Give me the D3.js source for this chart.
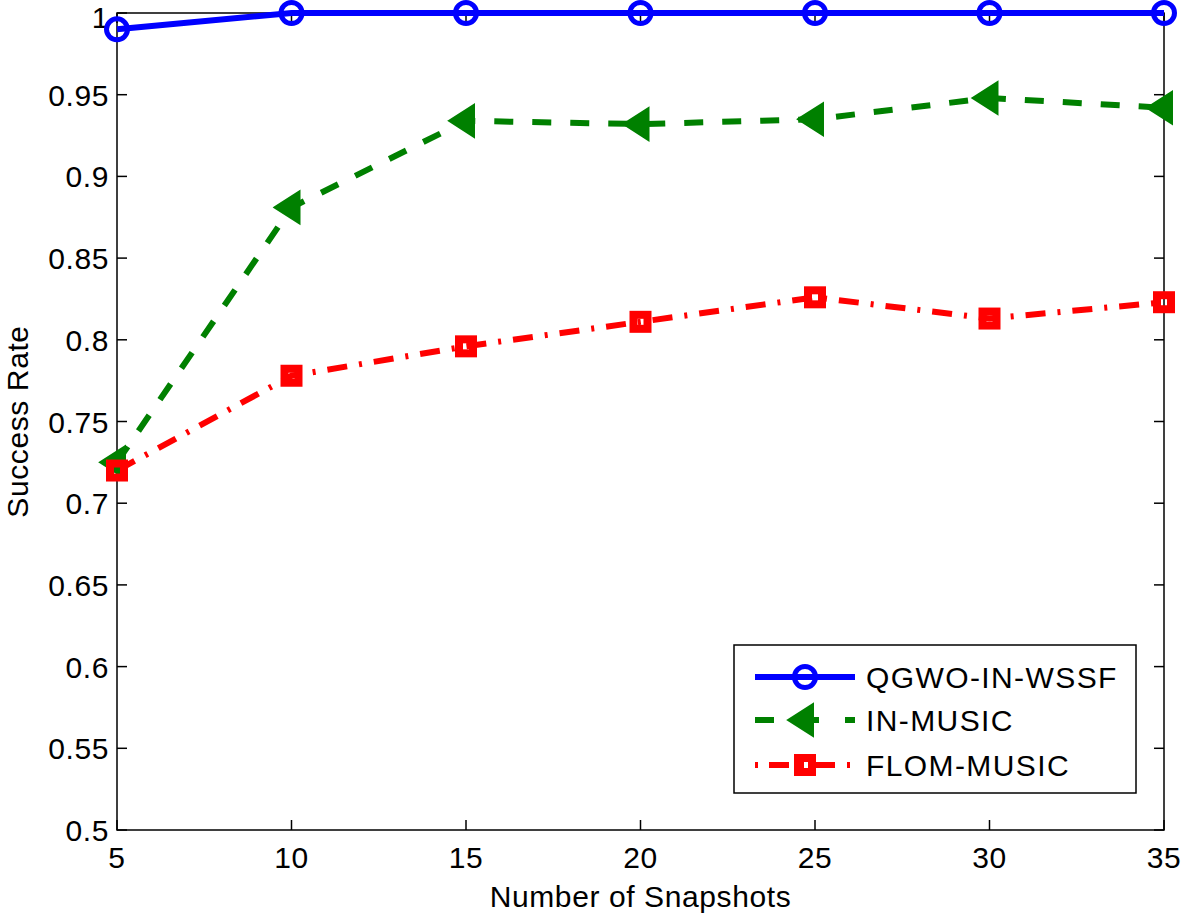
<!DOCTYPE html>
<html><head><meta charset="utf-8">
<script src="https://cdn.jsdelivr.net/npm/d3@7"></script>
<style>body{margin:0;background:#fff}svg{display:block}text{font-family:"Liberation Sans",Arial,Helvetica,sans-serif}</style>
</head><body>
<svg id="c" width="1181" height="914"></svg>
<script>
const snapshots = [5,10,15,20,25,30,35];
const qgwo = [0.990,1,1,1,1,1,1];
const inMusic = [0.725,0.881,0.934,0.932,0.935,0.948,0.942];
const flom = [0.720,0.778,0.796,0.811,0.826,0.813,0.823];
const xTicks = [5,10,15,20,25,30,35];
const yTicks = [0.5,0.55,0.6,0.65,0.7,0.75,0.8,0.85,0.9,0.95,1];
const yTickLabels = ["0.5","0.55","0.6","0.65","0.7","0.75","0.8","0.85","0.9","0.95","1"];
const seriesNames = ["QGWO-IN-WSSF","IN-MUSIC","FLOM-MUSIC"];

const L=117,R=1164,T=13,B=830;
const FS=30, LS="0.6px";
const svg=d3.select("#c");
const x=d3.scaleLinear().domain([5,35]).range([L,R]);
const y=d3.scaleLinear().domain([0.5,1]).range([B,T]);

svg.append("rect").attr("x",L).attr("y",T).attr("width",R-L).attr("height",B-T).attr("fill","none").attr("stroke","#000").attr("stroke-width",1.5);
const tl=10;
const g=svg.append("g").attr("stroke","#000").attr("stroke-width",1.5);
xTicks.forEach(v=>{g.append("line").attr("x1",x(v)).attr("x2",x(v)).attr("y1",B).attr("y2",B-tl);
 g.append("line").attr("x1",x(v)).attr("x2",x(v)).attr("y1",T).attr("y2",T+tl);});
yTicks.forEach(v=>{g.append("line").attr("y1",y(v)).attr("y2",y(v)).attr("x1",L).attr("x2",L+tl);
 g.append("line").attr("y1",y(v)).attr("y2",y(v)).attr("x1",R).attr("x2",R-tl);});
xTicks.forEach(v=>svg.append("text").attr("x",x(v)).attr("y",B+38).attr("text-anchor","middle").attr("font-size",FS).attr("letter-spacing",LS).text(v));
yTicks.forEach((v,i)=>svg.append("text").attr("x",L-8).attr("y",Math.max(y(v)+11,28)).attr("text-anchor","end").attr("font-size",FS).attr("letter-spacing",LS).text(yTickLabels[i]));
svg.append("text").attr("x",(L+R)/2).attr("y",907).attr("text-anchor","middle").attr("font-size",FS).attr("letter-spacing",LS).text("Number of Snapshots");
svg.append("text").attr("transform",`translate(28,${(T+B)/2}) rotate(-90)`).attr("text-anchor","middle").attr("font-size",FS).attr("letter-spacing",LS).text("Success Rate");

const line=d3.line().x((d,i)=>x(snapshots[i])).y(d=>y(d));
const styles=[
 {color:"#0000ff",dash:null,marker:"circle"},
 {color:"#008000",dash:"19,19",marker:"tri"},
 {color:"#ff0000",dash:"20,12,3,12",marker:"square"}];
const data=[qgwo,inMusic,flom];

function marker(sel,type,color,cx,cy){
 if(type==="circle") sel.append("circle").attr("cx",cx).attr("cy",cy).attr("r",10.5).attr("fill","none").attr("stroke",color).attr("stroke-width",5);
 else if(type==="tri") sel.append("path").attr("d",`M${cx-17},${cy} L${cx+8},${cy-16} L${cx+8},${cy+16} Z`).attr("fill",color).attr("stroke",color).attr("stroke-width",2);
 else sel.append("rect").attr("x",cx-7).attr("y",cy-7).attr("width",14).attr("height",14).attr("fill","none").attr("stroke",color).attr("stroke-width",8);
}
const cl=svg.append("g");
data.forEach((d,k)=>{
 const s=styles[k];
 cl.append("path").attr("d",line(d)).attr("fill","none").attr("stroke",s.color).attr("stroke-width",6).attr("stroke-dasharray",s.dash);
});
data.forEach((d,k)=>{
 const s=styles[k];
 d.forEach((v,i)=>marker(cl,s.marker,s.color,x(snapshots[i]),y(v)));
});

const lg=svg.append("g");
lg.append("rect").attr("x",734).attr("y",645).attr("width",402).attr("height",148).attr("fill","#fff").attr("stroke","#000").attr("stroke-width",1.5);
const rows=[677,720,765];
styles.forEach((s,k)=>{
 lg.append("line").attr("x1",755).attr("x2",855).attr("y1",rows[k]).attr("y2",rows[k]).attr("stroke",s.color).attr("stroke-width",6).attr("stroke-dasharray",s.dash==null?null:(k===1?"19,26":"3,11,20,12"));
 marker(lg,s.marker,s.color,805,rows[k]);
 lg.append("text").attr("x",866).attr("y",rows[k]+11).attr("font-size",FS).attr("letter-spacing","1.4px").text(seriesNames[k]);
});
</script>
</body></html>
